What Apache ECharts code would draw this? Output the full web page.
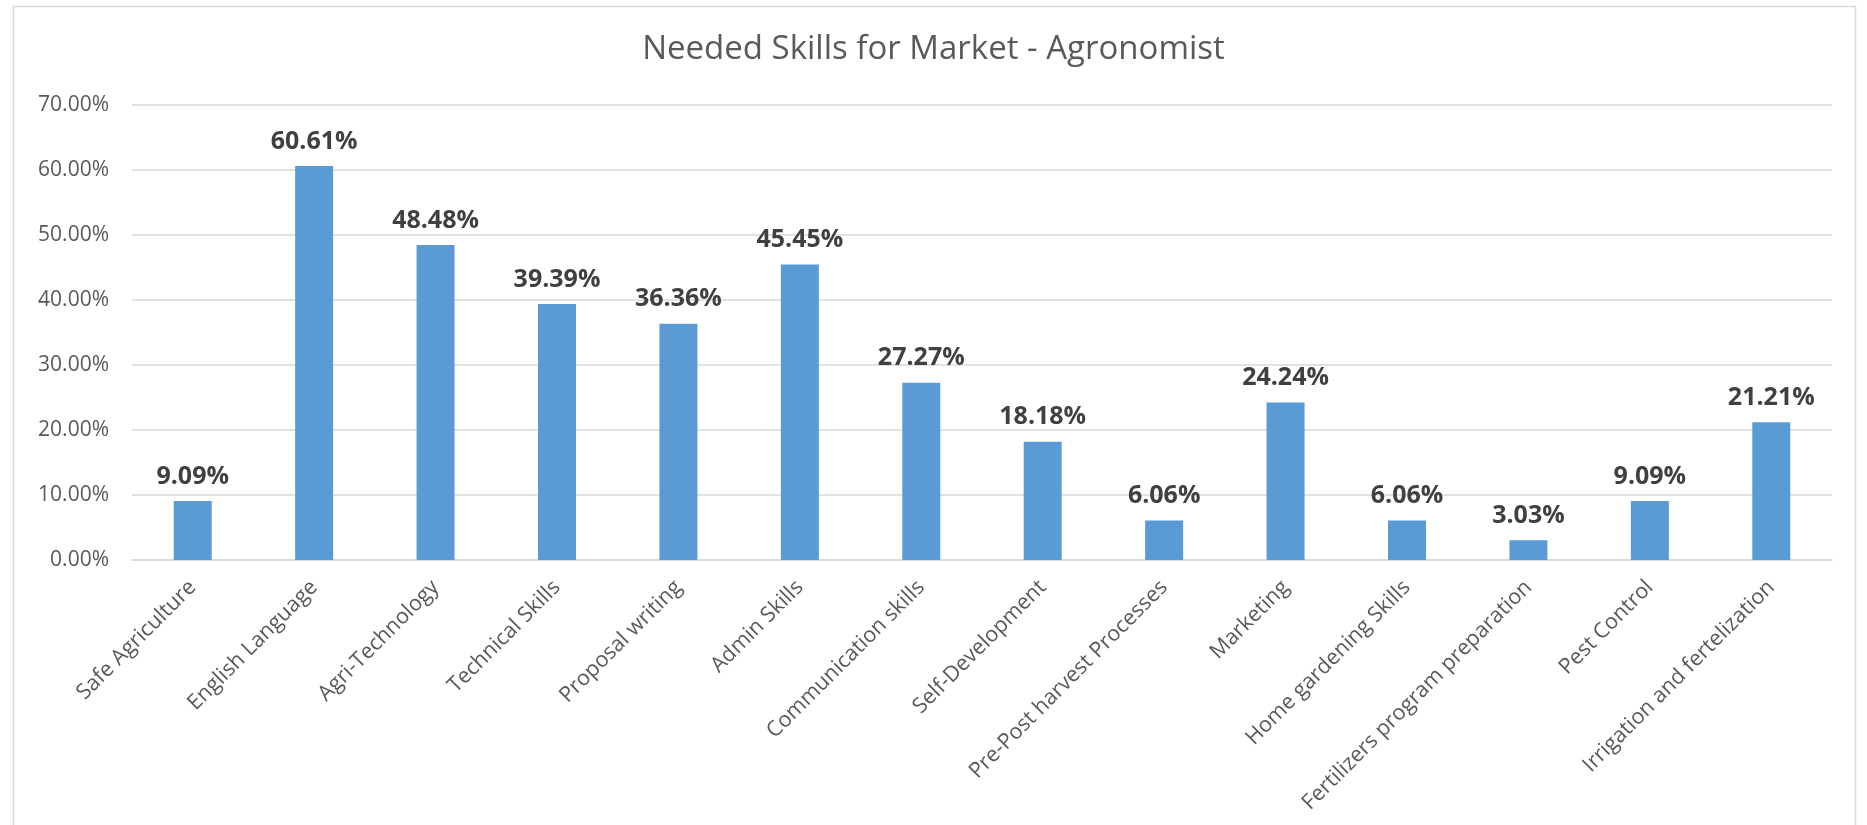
<!DOCTYPE html>
<html>
<head>
<meta charset="utf-8">
<title>Needed Skills for Market - Agronomist</title>
<script src="https://cdn.jsdelivr.net/npm/echarts@6/dist/echarts.min.js"></script>
<style>
  html, body { margin: 0; padding: 0; background: #ffffff; }
  #chart { width: 1867px; height: 825px; }
</style>
</head>
<body>
<div id="chart"></div>
<script>
// Skill categories (x axis)
const skills = [
  'Safe Agriculture',
  'English Language',
  'Agri-Technology',
  'Technical Skills',
  'Proposal writing',
  'Admin Skills',
  'Communication skills',
  'Self-Development',
  'Pre-Post harvest Processes',
  'Marketing',
  'Home gardening Skills',
  'Fertilizers program preparation',
  'Pest Control',
  'Irrigation and fertelization'
];

// Share of respondents naming each skill, in percent
const shares = [9.09, 60.61, 48.48, 39.39, 36.36, 45.45, 27.27, 18.18, 6.06, 24.24, 6.06, 3.03, 9.09, 21.21];

// Value axis range
const yMin = 0;
const yMax = 70;
const yStep = 10;

const chartTitle = 'Needed Skills for Market - Agronomist';

const font = '"Open Sans", "Noto Sans", sans-serif';
const chart = echarts.init(document.getElementById('chart'), null, { renderer: 'canvas' });

chart.setOption({
  backgroundColor: '#ffffff',
  animation: false,
  title: {
    text: chartTitle,
    left: 'center',
    top: 28,
    textStyle: {
      fontFamily: font,
      fontSize: 33,
      fontWeight: 'normal',
      color: '#595959'
    }
  },
  graphic: [{
    type: 'rect',
    silent: true,
    shape: { x: 13.5, y: 6.5, width: 1842, height: 900 },
    style: { fill: 'none', stroke: '#d9d9d9', lineWidth: 1.5 }
  }],
  grid: {
    left: 132,
    right: 35,
    top: 105,
    bottom: 265,
    containLabel: false
  },
  xAxis: {
    type: 'category',
    data: skills,
    axisLine: { show: true, lineStyle: { color: '#d9d9d9', width: 1.5 } },
    axisTick: { show: false },
    axisLabel: {
      interval: 0,
      rotate: 45,
      margin: 24,
      fontFamily: font,
      fontSize: 21.5,
      color: '#595959'
    }
  },
  yAxis: {
    type: 'value',
    min: yMin,
    max: yMax,
    interval: yStep,
    axisLine: { show: false },
    axisTick: { show: false },
    splitLine: { lineStyle: { color: '#d9d9d9', width: 1.5 } },
    axisLabel: {
      margin: 23,
      fontFamily: font,
      fontSize: 21,
      color: '#595959',
      formatter: v => v.toFixed(2) + '%'
    }
  },
  series: [{
    type: 'bar',
    data: shares,
    barWidth: 38,
    itemStyle: { color: '#5b9bd5' },
    label: {
      show: true,
      position: 'top',
      distance: 12,
      fontFamily: font,
      fontSize: 25,
      fontWeight: 'bold',
      color: '#404040',
      formatter: p => p.value.toFixed(2) + '%'
    }
  }]
});
</script>
</body>
</html>
